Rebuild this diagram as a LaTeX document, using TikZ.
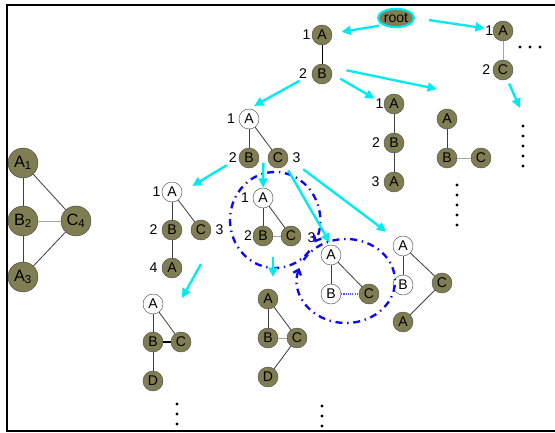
\documentclass[tikz,border=0pt]{standalone}
\usepackage{fontspec}
\setmainfont{Liberation Sans}
\usetikzlibrary{arrows.meta,positioning,calc,shapes.geometric}

\definecolor{olivefill}{RGB}{128,125,82}
\definecolor{arrowcyan}{RGB}{0,235,240}
\definecolor{ringblue}{RGB}{10,10,245}

\begin{document}
\begin{tikzpicture}[
  x=0.03cm, y=-0.03cm,
  font=\fontsize{12}{14}\selectfont,
  vtx/.style={circle, draw=black!70, fill=olivefill, minimum size=6mm, inner sep=0pt},
  freevtx/.style={vtx, fill=white},
  bigvtx/.style={vtx, minimum size=9mm, font=\fontsize{14}{16}\selectfont},
  lbl/.style={inner sep=1pt},
  tie/.style={draw=black!75, line width=0.7pt},
  faint/.style={draw=black!35, line width=0.7pt},
  flow/.style={-{Triangle[length=8pt,width=7.5pt]}, arrowcyan, line width=2pt},
  ring/.style={-{Straight Barb[length=4pt,width=7pt]}, ringblue, line width=2pt,
               dash pattern=on 6pt off 4pt on 1.2pt off 4pt},
]
  \useasboundingbox (0,0) rectangle (555,433);
  \draw[line width=1.6pt] (570,5) -- (7,5) -- (7,431) -- (570,431);

  % the graph itself
  \node[bigvtx] (gA1) at (23,163) {A\textsubscript{1}};
  \node[bigvtx] (gB2) at (23,221) {B\textsubscript{2}};
  \node[bigvtx] (gC4) at (76,221) {C\textsubscript{4}};
  \node[bigvtx] (gA3) at (23,277) {A\textsubscript{3}};
  \draw[tie] (gA1) -- (gB2) -- (gA3);
  \draw[tie] (gA1) -- (gC4) -- (gA3);
  \draw[faint] (gB2) -- (gC4);

  % root of the search
  \node[ellipse, draw=arrowcyan, line width=1.8pt, fill=olivefill, inner sep=0.5pt,
        minimum width=9.5mm, minimum height=5.5mm] (root) at (396,18) {root};

  % first branch A-B
  \node[vtx, label={[lbl]left:1}] (lA) at (322,35) {A};
  \node[vtx, label={[lbl, label distance=3pt]left:2}] (lB) at (322,74) {B};
  \draw[black, line width=0.8pt] (lA) -- (lB);

  % second branch A-C
  \node[vtx, label={[lbl, label distance=-1.5pt]left:1}] (rA) at (503,31) {A};
  \node[vtx, label={[lbl, label distance=1pt]left:2}] (rC) at (503,70) {C};
  \draw[faint] (rA) -- (rC);
  \coordinate (rgo) at (520,108);

  % chain A-B-A
  \node[vtx, label={[lbl, label distance=-1pt]left:1}] (chA) at (394,104) {A};
  \node[vtx, label={[lbl, label distance=2pt]left:2}] (chB) at (394,143) {B};
  \node[vtx, label={[lbl, label distance=2.5pt]left:3}] (chA3) at (394,182) {A};
  \draw[tie] (chA) -- (chB) -- (chA3);

  % fork A-B-C
  \node[vtx] (fkA) at (447,119) {A};
  \node[vtx] (fkB) at (447,158) {B};
  \node[vtx] (fkC) at (481,158) {C};
  \draw[tie] (fkA) -- (fkB);
  \draw[faint] (fkB) -- (fkC);
  \coordinate (fkgo) at (437,89);

  % middle pattern
  \node[freevtx, label={[lbl, label distance=2pt]left:1}] (mA) at (249,119) {A};
  \node[vtx, label={[lbl, label distance=0.5pt]left:2}] (mB) at (249,158) {B};
  \node[vtx, label={[lbl, label distance=2.5pt]right:3}] (mC) at (278,158) {C};
  \draw[tie] (mA) -- (mB);
  \draw[tie] (mA) -- (mC);

  % extension below, left
  \node[freevtx, label={[lbl]left:1}] (pA) at (172,192) {A};
  \node[vtx, label={[lbl, label distance=2.5pt]left:2}] (pB) at (172,230) {B};
  \node[vtx, label={[lbl, label distance=2.5pt]right:3}] (pC) at (201,230) {C};
  \node[vtx, label={[lbl, label distance=2.5pt]left:4}] (pA4) at (172,268) {A};
  \draw[tie] (pA) -- (pB) -- (pA4);
  \draw[tie] (pA) -- (pC);
  \coordinate (pgo) at (201,264);
  \coordinate (bgo) at (182,298);

  % first circled pattern
  \node[freevtx, label={[lbl, label distance=2pt]left:1}] (qA) at (263,198) {A};
  \node[vtx, label={[lbl, label distance=-0.5pt]left:2}] (qB) at (263,236) {B};
  \node[vtx] (qC) at (291,236) {C};
  \draw[tie] (qA) -- (qB);
  \draw[tie] (qA) -- (qC);
  \draw[faint] (qB) -- (qC);
  \coordinate (qctr) at (275,220);
  \coordinate (qgo) at (273,257);

  % second circled pattern
  \node[freevtx, label={[lbl, label distance=4pt, xshift=-3pt]135:3}] (wA) at (331,255) {A};
  \node[freevtx] (wB) at (331,294) {B};
  \node[vtx] (wC) at (369,294) {C};
  \draw[tie] (wA) -- (wB);
  \draw[tie] (wA) -- (wC);
  \draw[ringblue!70, densely dotted, line width=0.9pt] (wB) -- (wC);
  \coordinate (wctr) at (346,281);

  % zigzag A-B, A-C-A
  \node[freevtx] (zA) at (403,246) {A};
  \node[freevtx] (zB) at (403,285) {B};
  \node[vtx] (zC) at (442,283) {C};
  \node[vtx] (zA4) at (403,322) {A};
  \draw[tie] (zA) -- (zB);
  \draw[tie] (zA) -- (zC) -- (zA4);

  % bottom left
  \node[freevtx] (bA) at (153,304) {A};
  \node[vtx] (bB) at (153,342) {B};
  \node[vtx] (bC) at (181,342) {C};
  \node[vtx] (bD) at (153,381) {D};
  \draw[tie] (bA) -- (bB) -- (bD);
  \draw[tie] (bA) -- (bC);
  \draw[black, line width=2.2pt] (bB) -- (bC);

  % bottom middle
  \node[vtx] (dA) at (268,299) {A};
  \node[vtx] (dB) at (268,338) {B};
  \node[vtx] (dC) at (297,338) {C};
  \node[vtx] (dD) at (268,377) {D};
  \draw[tie] (dA) -- (dB);
  \draw[tie] (dA) -- (dC) -- (dD);
  \draw[faint] (dB) -- (dC);

  % dash-dot rings
  \draw[ring] (qctr) ++(40:45 and 48) arc[start angle=40, end angle=388, x radius=45, y radius=48];
  \draw[ring] (wctr) ++(210:49 and 42) arc[start angle=210, end angle=558, x radius=49, y radius=42];

  % search steps
  \draw[flow, shorten <=3pt, shorten >=8pt] (root.south west) -- (lA);
  \draw[flow, shorten <=12pt, shorten >=7pt] (root.east) -- (rA);
  \draw[flow, shorten <=4pt] (rC) -- (rgo);
  \draw[flow, shorten <=12pt, shorten >=5pt] (lB.west) -- (mA.north);
  \draw[flow, shorten <=8pt, shorten >=9pt] (lB.east) -- (chA.west);
  \draw[flow, shorten <=15pt] (lB.north east) -- (fkgo);
  \draw[flow, shorten <=12pt, shorten >=10pt] (mB.west) -- (pA.east);
  \draw[flow, shorten <=4pt] ($(mB)!0.5!(mC)$) -- (qA.north);
  \draw[flow, shorten <=5pt, shorten >=2pt] (mC.south east) -- (wA.north);
  \draw[flow, shorten <=16pt, shorten >=10pt] (mC.east) -- (zA.north west);
  \draw[flow] (pgo) -- (bgo);
  \draw[flow, shorten >=10pt] (qgo) -- (dA.north -| qgo);

  % more to come
  \foreach \x in {520,530,540} \fill (\x,47) circle (1.3pt);
  \foreach \y in {126,136,146,156,166} \fill (523,\y) circle (1.3pt);
  \foreach \y in {185,195,205,215,225} \fill (457,\y) circle (1.3pt);
  \foreach \y in {404,414,424} \fill (177,\y) circle (1.3pt);
  \foreach \y in {406,416,426} \fill (322,\y) circle (1.3pt);
\end{tikzpicture}
\end{document}
